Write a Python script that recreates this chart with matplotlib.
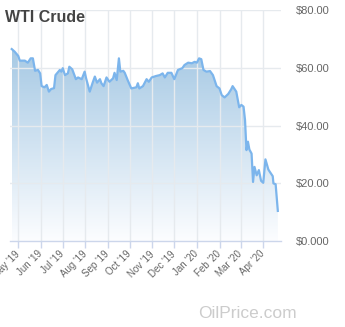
import matplotlib
matplotlib.use("Agg")
import matplotlib.pyplot as plt
import matplotlib.dates as mdates
import numpy as np
from datetime import datetime

dates = ["2019-04-22","2019-04-26","2019-05-01","2019-05-03","2019-05-10","2019-05-14","2019-05-18","2019-05-21",
         "2019-05-24","2019-05-28","2019-05-31","2019-06-02","2019-06-06","2019-06-09","2019-06-12","2019-06-15",
         "2019-06-19","2019-06-21","2019-06-27","2019-06-29","2019-07-01","2019-07-04","2019-07-08","2019-07-10",
         "2019-07-14","2019-07-19","2019-07-22","2019-07-27","2019-07-31","2019-08-02","2019-08-07","2019-08-11",
         "2019-08-14","2019-08-17","2019-08-21","2019-08-23","2019-08-26","2019-08-30","2019-09-03","2019-09-08",
         "2019-09-10","2019-09-13","2019-09-16","2019-09-18","2019-09-22","2019-09-24","2019-09-28","2019-10-03",
         "2019-10-10","2019-10-12","2019-10-14","2019-10-19","2019-10-24","2019-10-27","2019-10-31","2019-11-06",
         "2019-11-11","2019-11-15","2019-11-18","2019-11-22","2019-11-27","2019-12-01","2019-12-06","2019-12-12",
         "2019-12-15","2019-12-20","2019-12-25","2019-12-29","2020-01-01","2020-01-04","2020-01-07","2020-01-10",
         "2020-01-14","2020-01-19","2020-01-23","2020-01-28","2020-02-01","2020-02-04","2020-02-08","2020-02-13",
         "2020-02-17","2020-02-19","2020-02-24","2020-02-28","2020-03-02","2020-03-05","2020-03-07","2020-03-09",
         "2020-03-11","2020-03-13","2020-03-16","2020-03-18","2020-03-20","2020-03-23","2020-03-26","2020-03-29",
         "2020-04-01","2020-04-04","2020-04-08","2020-04-10","2020-04-14","2020-04-15","2020-04-18","2020-04-21"]
prices = [66.4,65.5,64.0,62.4,62.4,61.7,63.2,63.2,
          58.9,59.2,58.0,53.6,53.2,54.0,51.7,52.6,
          52.9,57.4,59.2,58.6,59.8,57.4,58.0,60.3,
          59.4,56.0,56.6,56.0,58.6,56.3,51.7,54.8,
          56.9,54.8,56.0,54.6,53.6,56.6,55.1,56.3,
          58.2,55.7,63.2,58.6,58.9,58.2,55.7,52.8,
          53.2,54.6,52.8,53.6,56.0,55.1,56.6,57.1,
          57.4,58.0,56.6,58.2,58.2,56.0,59.2,59.8,
          60.9,61.7,61.5,62.0,61.7,63.2,62.9,59.2,
          58.6,58.8,57.4,53.6,52.8,50.5,49.7,50.9,
          52.5,53.6,51.7,46.3,47.1,46.5,41.9,31.5,
          34.4,31.7,30.3,20.5,25.7,22.8,24.6,20.9,
          20.2,28.3,24.8,24.0,22.5,20.0,19.7,10.5]
month_ticks = ["2019-05-01","2019-06-01","2019-07-01","2019-08-01","2019-09-01","2019-10-01",
               "2019-11-01","2019-12-01","2020-01-01","2020-02-01","2020-03-01","2020-04-01"]
month_labels = ["May '19","Jun '19","Jul '19","Aug '19","Sep '19","Oct '19",
                "Nov '19","Dec '19","Jan '20","Feb '20","Mar '20","Apr '20"]
y_ticks = [0, 20, 40, 60, 80]
y_labels = ["$0.000", "$20.00", "$40.00", "$60.00", "$80.00"]

plt.rcParams['font.family'] = ['Liberation Sans', 'DejaVu Sans']

W, H = 345, 327
fig = plt.figure(figsize=(W/100, H/100), dpi=100)
ax = fig.add_axes([10/W, 1-241.3/H, 271/W, 231.6/H])

x = mdates.date2num([datetime.strptime(d, "%Y-%m-%d") for d in dates])
y = np.array(prices)
xt = mdates.date2num([datetime.strptime(d, "%Y-%m-%d") for d in month_ticks])

x0 = xt[0] - 8.3/0.729
x1 = xt[0] + (281-18.3)/0.729
ax.set_xlim(x0, x1)
ax.set_ylim(0, 80)

# gradient fill
poly = ax.fill_between(x, y, 0, color='none', lw=0)
top = y.max()
n = 256
t = np.linspace(0, 1, n)[:, None]  # 0 at top, 1 at bottom
c_top = np.array([166, 201, 228]) / 255
c_bot = np.array([252, 253, 255]) / 255
grad = c_top + (c_bot - c_top) * t
img = np.repeat(grad[:, None, :], 2, axis=1)
im = ax.imshow(img, extent=[x.min(), x.max(), 0, top], aspect='auto', origin='upper', zorder=1)
path = poly.get_paths()[0]
im.set_clip_path(path, transform=ax.transData)

# grid
for v in xt:
    ax.axvline(v, color='#e6eaee', lw=1, zorder=2)
for v in y_ticks[1:]:
    ax.axhline(v, color='#e6eaee', lw=1, zorder=2)

ax.plot(x, y, color='#7cb5ec', lw=1.6, zorder=3, solid_joinstyle='round')

for s in ['top', 'left', 'right']:
    ax.spines[s].set_visible(False)
ax.spines['bottom'].set_color('#ccd6eb')
ax.spines['bottom'].set_linewidth(1)
ax.spines['bottom'].set_zorder(4)

ax.set_xticks(xt)
ax.set_xticklabels(month_labels, rotation=45, ha='right', va='center', rotation_mode='anchor',
                   fontsize=7, color='#666666')
ax.tick_params(axis='x', length=5, width=1, color='#ccd6eb', pad=3)

ax.yaxis.tick_right()
ax.set_yticks(y_ticks)
ax.set_yticklabels(y_labels, fontsize=8, color='#666666')
ax.tick_params(axis='y', length=0, pad=11)

fig.text(5/W, 1-22/H, 'WTI Crude', fontsize=11.5, fontweight='bold', color='#444444', va='baseline', ha='left')
fig.text(198/W, 1-318/H, 'OilPrice.com', fontsize=12.5, color='#cccccc', va='baseline', ha='left')

fig.savefig('out.png', dpi=100)
